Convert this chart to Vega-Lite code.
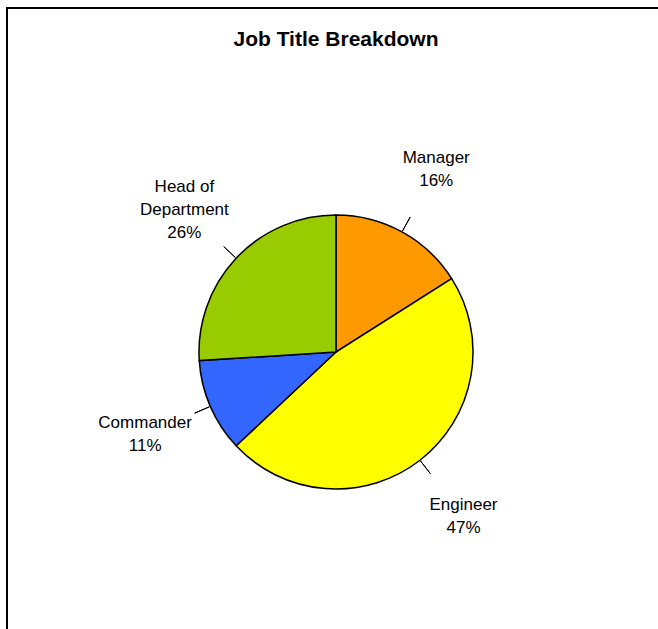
{
  "$schema": "https://vega.github.io/schema/vega-lite/v6.json",
  "width": 658,
  "height": 629,
  "autosize": {"type": "fit", "contains": "padding"},
  "padding": {"left": 7, "top": 8, "right": -7, "bottom": -67},
  "background": "white",
  "view": {"stroke": "#000000", "strokeWidth": 2},
  "title": {
    "text": "Job Title Breakdown",
    "font": "Liberation Sans",
    "fontSize": 21,
    "fontWeight": "bold",
    "color": "#000000",
    "anchor": "middle",
    "orient": "top",
    "frame": "group",
    "offset": -42
  },
  "data": {
    "values": [
      {"job": "Manager", "pct": 16, "label": "Manager\n16%"},
      {"job": "Engineer", "pct": 47, "label": "Engineer\n47%"},
      {"job": "Commander", "pct": 11, "label": "Commander\n11%"},
      {"job": "Head of Department", "pct": 26, "label": "Head of\nDepartment\n26%"}
    ]
  },
  "transform": [{"window": [{"op": "row_number", "as": "idx"}]}],
  "layer": [
    {
      "mark": {"type": "arc", "radius": 137, "stroke": "#000000", "strokeWidth": 1.5},
      "encoding": {
        "theta": {"field": "pct", "type": "quantitative", "stack": true, "scale": {"domain": [0, 100]}},
        "order": {"field": "idx", "type": "quantitative"},
        "color": {
          "field": "job",
          "type": "nominal",
          "scale": {
            "domain": ["Manager", "Engineer", "Commander", "Head of Department"],
            "range": ["#FF9900", "#FFFF00", "#3366FF", "#99CC00"]
          },
          "legend": null
        }
      }
    },
    {
      "transform": [
        {"stack": "pct", "groupby": [], "sort": [{"field": "idx", "order": "ascending"}], "as": ["s0", "s1"]},
        {"fold": ["s0", "s1"], "as": ["k", "v"]},
        {"aggregate": [{"op": "mean", "field": "v", "as": "mid"}], "groupby": ["job"]}
      ],
      "mark": {"type": "arc", "radius": 154, "radius2": 138, "stroke": "#000000", "strokeWidth": 1, "fillOpacity": 0},
      "encoding": {
        "theta": {"field": "mid", "type": "quantitative"},
        "theta2": {"field": "mid"}
      }
    },
    {
      "mark": {
        "type": "text",
        "radius": 208,
        "dy": -11.5,
        "font": "Liberation Sans",
        "fontSize": 17,
        "lineBreak": "\n",
        "lineHeight": 23,
        "align": "center",
        "baseline": "middle",
        "color": "#000000"
      },
      "encoding": {
        "theta": {"field": "pct", "type": "quantitative", "stack": true},
        "order": {"field": "idx", "type": "quantitative"},
        "text": {"condition": {"test": "datum.job !== 'Head of Department'", "field": "label"}, "value": ""}
      }
    },
    {
      "mark": {
        "type": "text",
        "radius": 208,
        "dy": -23,
        "font": "Liberation Sans",
        "fontSize": 17,
        "lineBreak": "\n",
        "lineHeight": 23,
        "align": "center",
        "baseline": "middle",
        "color": "#000000"
      },
      "encoding": {
        "theta": {"field": "pct", "type": "quantitative", "stack": true},
        "order": {"field": "idx", "type": "quantitative"},
        "text": {"condition": {"test": "datum.job === 'Head of Department'", "field": "label"}, "value": ""}
      }
    }
  ]
}
